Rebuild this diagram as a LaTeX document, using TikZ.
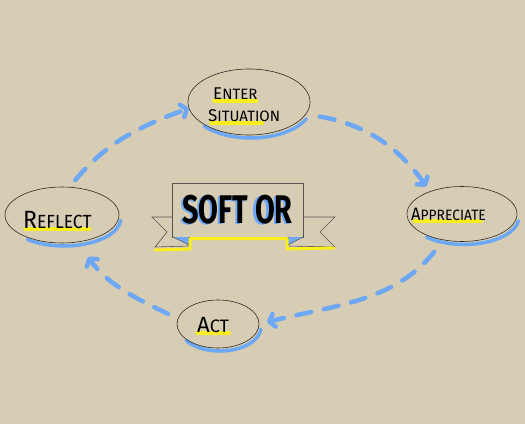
\documentclass[tikz,border=0pt]{standalone}
\usepackage{fontspec}
\setsansfont{Fira Sans}
\usetikzlibrary{arrows.meta, calc, shapes.geometric}
\definecolor{paper}{RGB}{214,205,180}
\definecolor{flowblue}{RGB}{108,168,245}
\definecolor{marker}{RGB}{250,238,30}
\definecolor{pen}{RGB}{45,42,38}
\pgfdeclarelayer{bg}
\pgfdeclarelayer{hl}
\pgfsetlayers{bg,hl,main}
\newcommand{\firstcap}[4]{{\fontsize{#1}{#1}\selectfont #2}{\fontsize{#3}{#3}\selectfont #4}}
\newcommand{\shadowed}[1]{\rlap{\kern-3pt\raisebox{-1pt}{\color{flowblue}#1}}#1}

\begin{document}
\begin{tikzpicture}[
    x=1pt, y=1pt, >=Stealth,
    stagebox/.style={draw=pen, line width=0.6pt, ellipse, inner sep=0pt},
    stagelbl/.style={font=\sffamily, text=black, inner sep=0pt, anchor=base west},
    hlmark/.style={draw=marker, line width=3.5pt, line cap=round},
    shadowarc/.style={draw=flowblue, line width=3.5pt, line cap=round},
    flow/.style={draw=flowblue, line width=4.5pt, line cap=round,
      dash pattern=on 15pt off 13pt,
      -{Straight Barb[length=5pt, width=13pt, round]}},
    bannerpart/.style={draw=pen!80, line width=0.6pt, fill=paper}
  ]
  \useasboundingbox (0,0) rectangle (525,424);
  \begin{pgfonlayer}{bg}
    \fill[paper] (0,0) rectangle (525,424);
  \end{pgfonlayer}

  % stages of the cycle
  \node[stagebox, minimum width=122, minimum height=66] (enter) at (249,322) {};
  \node[stagebox, minimum width=110, minimum height=55] (appreciate) at (462,210) {};
  \node[stagebox, minimum width=82, minimum height=48] (act) at (218,100) {};
  \node[stagebox, minimum width=114, minimum height=56] (reflect) at (62,209) {};

  \node[stagelbl] (enterA) at (213,324) {\firstcap{17}{E}{15}{NTER}};
  \node[stagelbl] (enterB) at (208,302) {\firstcap{17}{S}{15}{ITUATION}};
  \node[stagelbl] (appreciatelbl) at (411,204) {\scalebox{0.92}[1]{\firstcap{18}{A}{15}{PPRECIATE}}};
  \node[stagelbl] (actlbl) at (197,92) {\firstcap{22}{A}{18}{CT}};
  \node[stagelbl] (reflectlbl) at (23,196) {\scalebox{0.92}[1]{\firstcap{25}{R}{19}{EFLECT}}};

  \begin{pgfonlayer}{hl}
    \draw[hlmark] ([xshift=1pt,yshift=-1pt]enterA.base west) -- ([xshift=-1pt,yshift=-1pt]enterA.base east);
    \draw[hlmark] ([xshift=3pt,yshift=-1pt]enterB.base west) -- ([xshift=-18pt,yshift=-1pt]enterB.base east);
    \draw[hlmark] ([xshift=3pt,yshift=-1pt]appreciatelbl.base west) -- ([xshift=-5pt,yshift=-1pt]appreciatelbl.base east);
    \draw[hlmark] ([yshift=-1pt]actlbl.base west) -- ([yshift=-1pt]actlbl.base east);
    \draw[hlmark] ([xshift=2pt,yshift=-1pt]reflectlbl.base west) -- ([xshift=-2pt,yshift=-1pt]reflectlbl.base east);

    \draw[shadowarc] ($(enter.center)+(2,-3)+(220:61 and 33)$) arc[start angle=220, end angle=335, x radius=61, y radius=33];
    \draw[shadowarc] ($(appreciate.center)+(2,-3)+(227:55 and 27.5)$) arc[start angle=227, end angle=352, x radius=55, y radius=27.5];
    \draw[shadowarc] ($(act.center)+(2,-3)+(214:41 and 24)$) arc[start angle=214, end angle=355, x radius=41, y radius=24];
    \draw[shadowarc] ($(reflect.center)+(2,-3)+(230:57 and 28)$) arc[start angle=230, end angle=355, x radius=57, y radius=28];
  \end{pgfonlayer}

  % cycle arrows
  \draw[flow, shorten <=9pt] (reflect.75) to[out=50, in=200] (enter.186);
  \draw[flow, shorten <=14pt, shorten >=6pt] (enter.-12) to[out=-10, in=125] (appreciate.145);
  \draw[flow, shorten <=15pt, shorten >=8pt] (appreciate.235) to[out=231, in=14] (act.0);
  \draw[flow, shorten <=11pt, shorten >=18pt] (act.172) to[out=155, in=-55] (reflect.-60);

  % banner
  \draw[bannerpart] (178,207) -- (152,207) -- (167,192) -- (155,177) -- (189,178) -- (189,190) -- cycle;
  \draw[bannerpart] (297,207) -- (335,207) -- (320,192) -- (335,177) -- (288,178) -- (288,190) -- cycle;
  \node[draw=pen!80, line width=0.6pt, fill=paper, minimum width=131, minimum height=54,
        inner sep=0pt, font=\sffamily\bfseries\fontsize{40}{40}\selectfont]
    (title) at (237.5,214) {\scalebox{0.72}[1]{\shadowed{SOFT OR}}};
  \fill[flowblue] (173,187) -- (189,187) -- (189,179) -- cycle;
  \fill[flowblue] (288,187) -- (303,187) -- (288,179) -- cycle;
  \draw[pen!80, line width=0.5pt] (173,187) -- (189,179) -- (189,187);
  \draw[pen!80, line width=0.5pt] (303,187) -- (288,179) -- (288,187);
  \draw[marker, line width=3pt, line cap=round, line join=round]
    (155,174) -- (190,175) -- (190,185.5) -- (287,185.5) -- (287,175) -- (334,176);
\end{tikzpicture}
\end{document}
